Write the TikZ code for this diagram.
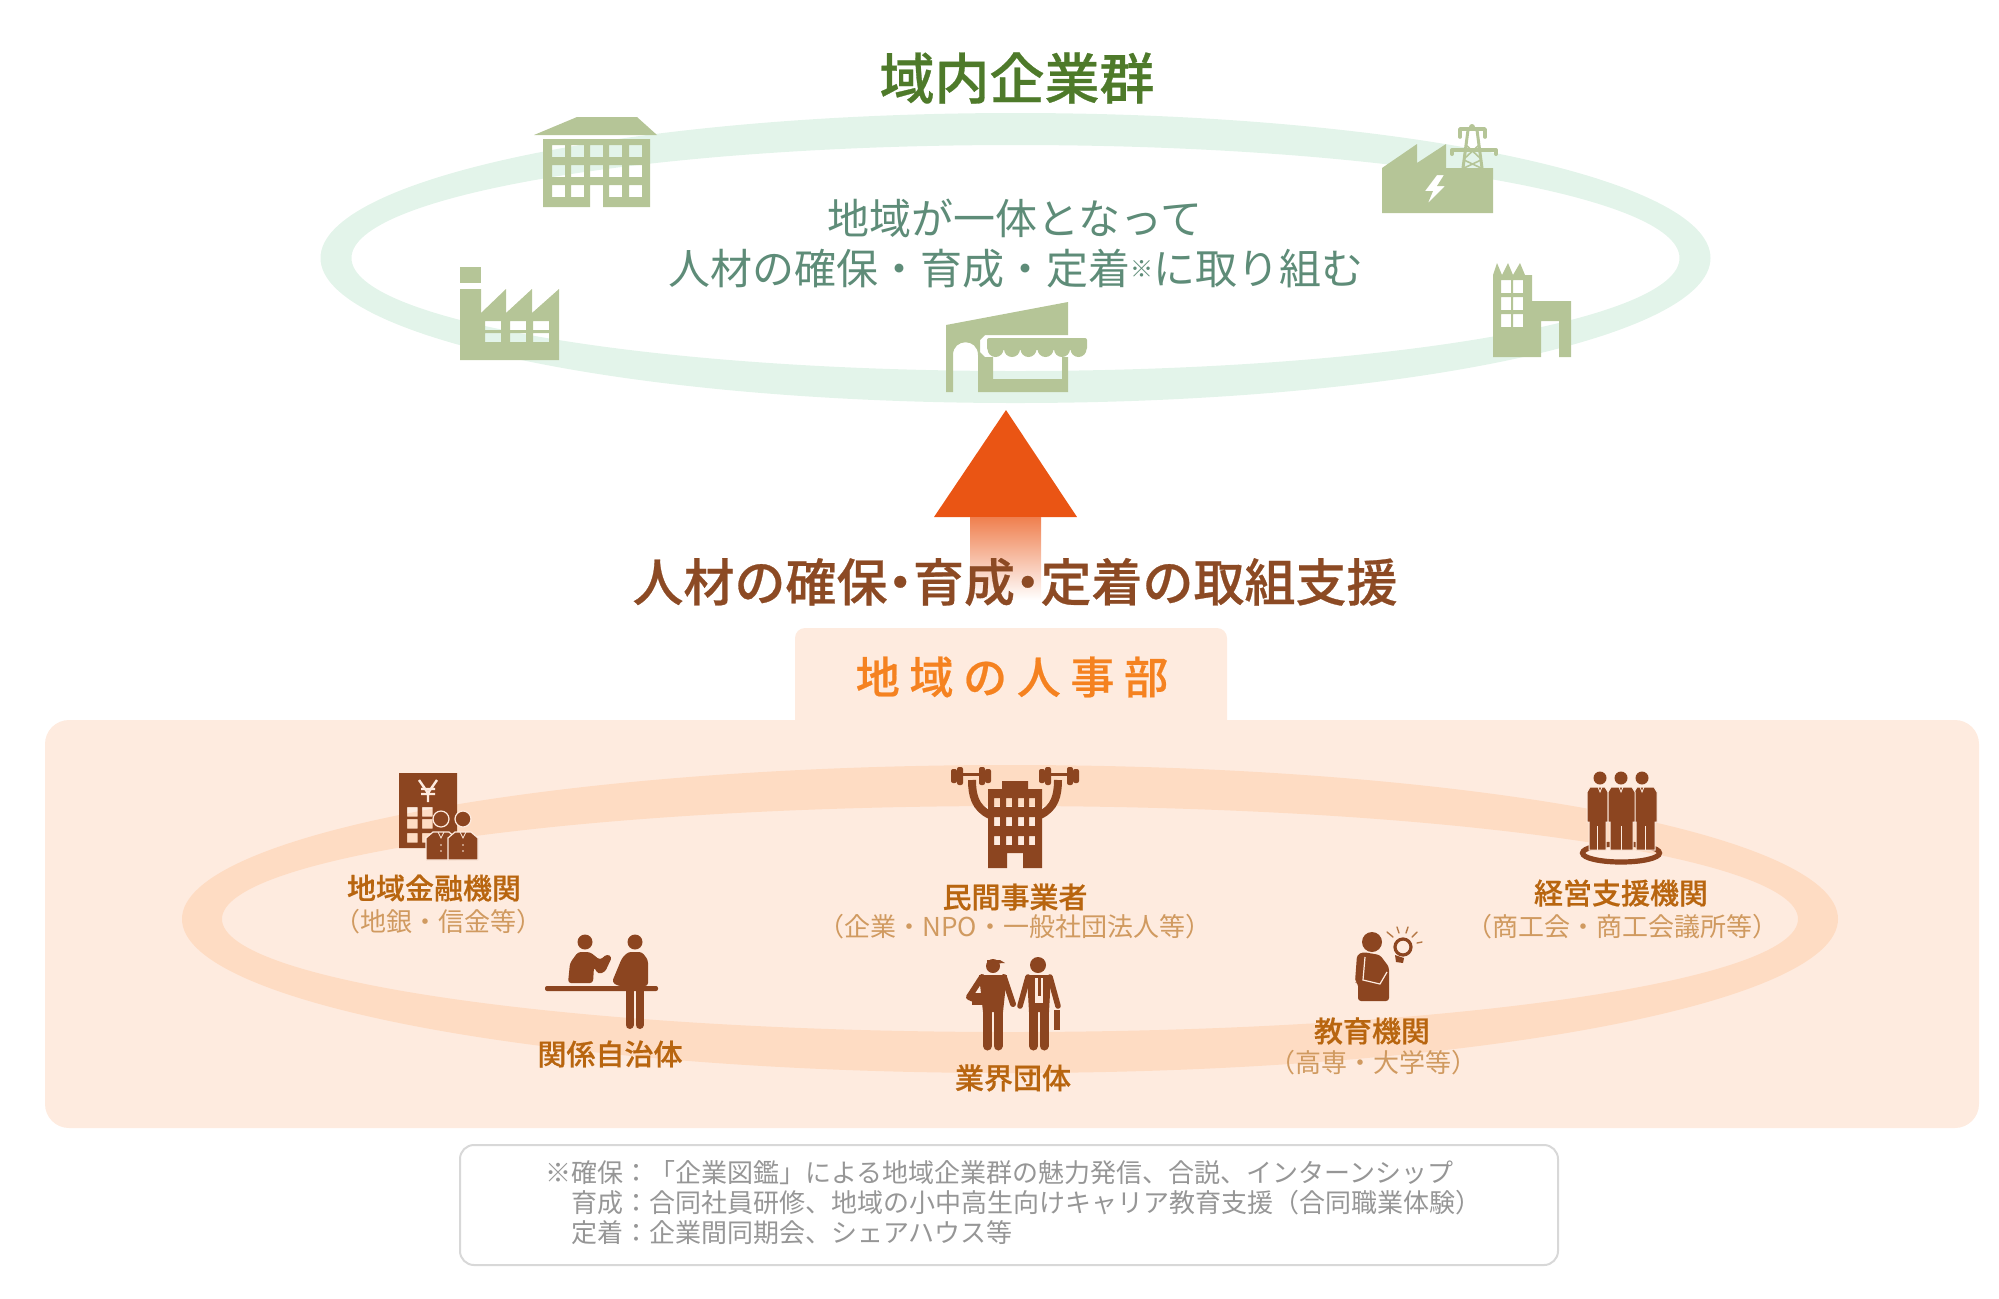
\documentclass[tikz,border=0pt]{standalone}
\usepackage{fontspec}
\newfontfamily\jp{Noto Sans CJK JP}
\newfontfamily\jpm[FakeBold=0.5]{Noto Sans CJK JP Medium}
\definecolor{ringgreen}{RGB}{227,244,234}
\definecolor{icongreen}{RGB}{181,197,151}
\definecolor{titlegreen}{RGB}{78,122,42}
\definecolor{textgreen}{RGB}{94,140,120}
\definecolor{panelfill}{RGB}{254,235,223}
\definecolor{ringorange}{RGB}{254,220,195}
\definecolor{iconbrown}{RGB}{140,69,32}
\definecolor{headbrown}{RGB}{140,74,36}
\definecolor{labelorange}{RGB}{184,101,15}
\definecolor{notelabel}{RGB}{208,154,96}
\definecolor{tabtext}{RGB}{245,130,32}
\definecolor{arrowred}{RGB}{234,85,20}
\definecolor{notegrey}{RGB}{150,150,150}
\definecolor{boxgrey}{RGB}{216,216,216}
\tikzset{
  greenicon/.style={fill=icongreen, even odd rule},
  brownicon/.style={fill=iconbrown, even odd rule},
  brownlimb/.style={draw=iconbrown, line cap=round, line join=round},
  bulbray/.style={draw=notelabel!60!iconbrown, line width=.7pt, line cap=round},
  cutline/.style={draw=panelfill, line width=.4pt},
  orglabel/.style={font=\jpm\fontsize{14.5}{17}\selectfont, text=labelorange, inner sep=0pt},
  orgnote/.style={font=\jp\fontsize{13}{15}\selectfont, text=notelabel, inner sep=0pt},
  midtext/.style={font=\jp\fontsize{21}{25}\selectfont, text=textgreen, inner sep=0pt},
}
\begin{document}
\begin{tikzpicture}[x=0.5pt, y=-0.5pt]
  \useasboundingbox (0,0) rectangle (1999,1298);
  % rings and panel
  \fill[ringgreen, even odd rule] (1015.5,258) ellipse [x radius=695, y radius=145]
                                  (1015.5,258) ellipse [x radius=664, y radius=113];
  \fill[panelfill, rounded corners=5pt] (795,628) rectangle (1227,745);
  \fill[panelfill, rounded corners=12pt] (45,720) rectangle (1979,1128);
  \fill[ringorange, even odd rule] (1010,919) ellipse [x radius=828, y radius=154]
                                   (1010,919) ellipse [x radius=788, y radius=113];
  % arrow
  \fill[arrowred] (1006,410) -- (1077,517) -- (934,517) -- cycle;
  \shade[top color=arrowred!75!white, bottom color=white] (970,517) rectangle (1041,600);
  % office
  \fill[greenicon] (577,117) -- (637,117) -- (657,135) -- (534,135) -- cycle;
  \fill[greenicon] (543,139) -- (650,139) -- (650,207) -- (603,207) -- (603,185) -- (590,185) -- (590,207) -- (543,207) -- cycle
    foreach \wx in {552,571,590,609,629} { foreach \wy in {145,165} { (\wx,\wy) rectangle ++(13,12) } }
    foreach \wx in {552,571,609,629} { (\wx,185) rectangle ++(13,12) };
  % factory
  \fill[greenicon] (460,267) rectangle (481,283);
  \fill[greenicon] (460,289) -- (481,289) -- (481,313) -- (506,289) -- (506,313) -- (532,289) -- (532,313) -- (559,289) -- (559,360) -- (460,360) -- cycle
    foreach \wx in {485,510,533} { foreach \wy in {321,333} { (\wx,\wy) rectangle ++(16,9) } };
  % shop
  \fill[greenicon] (946,392) -- (946,325) -- (1068,302) -- (1068,335) -- (985,335) -- (980,340) -- (980,352) -- (985,357) -- (993,357) -- (993,379)
    -- (1062,379) -- (1062,357) -- (1068,357) -- (1068,392) -- (978,392) -- (978,355) .. controls (978,338) and (953,338) .. (953,355) -- (953,392) -- cycle;
  \fill[greenicon, rounded corners=1pt] (987,338) rectangle (1087,350);
  \foreach \sx in {995.5,1012,1028.5,1045.5,1062,1078.5} { \fill[greenicon] (\sx,349) circle (8); }
  % power plant
  \fill[greenicon] (1382,168) -- (1417,144) -- (1417,163) -- (1446,144) -- (1446,168) -- (1493,168) -- (1493,213) -- (1382,213) -- cycle
    (1437,175) -- (1425,191) -- (1433,191) -- (1428,203) -- (1445,186) -- (1437,186) -- (1444,175) -- cycle;
  \draw[icongreen, line width=1.5pt] (1468,130) -- (1463,168) (1477,130) -- (1482,168);
  \draw[icongreen, line width=.8pt] (1466,145) -- (1480,158) (1479,145) -- (1465,158) (1464,160) -- (1481,168) (1481,160) -- (1464,168);
  \draw[icongreen, line width=1.8pt, line cap=round, line join=round] (1460,137) -- (1460,129) -- (1485,129) -- (1485,137);
  \draw[icongreen, line width=2pt, line cap=round, line join=round] (1452,154) -- (1452,150) -- (1496,150) -- (1496,154);
  \fill[icongreen] (1472,127) circle (3);
  % city building
  \fill[greenicon] (1493,357) -- (1493,275) -- (1497,263) -- (1502,275) -- (1508,263) -- (1513,275) -- (1520,263) -- (1525,275) -- (1532,275) -- (1532,301)
    -- (1571,301) -- (1571,357) -- (1559,357) -- (1559,321) -- (1541,321) -- (1541,357) -- cycle
    foreach \wx in {1501,1513} { foreach \wy in {280,297,314} { (\wx,\wy) rectangle ++(10,13) } };
  % bank
  \fill[brownicon] (399,773) rectangle (457,848)
    foreach \wx in {407,422} { foreach \wy in {807,819,833} { (\wx,\wy) rectangle ++(10.5,9.5) } };
  \draw[panelfill, line width=1.2pt] (419,780) -- (428,793) -- (437,780) (428,793) -- (428,802) (421,789) -- (435,789) (421,794) -- (435,794);
  \foreach \hx in {441,463} {
    \fill[iconbrown, draw=panelfill, line width=.6pt] (\hx,819) circle (8);
    \fill[iconbrown, draw=panelfill, line width=.6pt] (\hx-15,860) -- (\hx-15,838) -- (\hx-8,832) -- (\hx+8,832) -- (\hx+15,838) -- (\hx+15,860) -- cycle;
    \draw[cutline] (\hx-3,832) -- (\hx,838) -- (\hx+3,832);
    \fill[panelfill] (\hx,845) circle (.8) (\hx,851) circle (.8);
  }
  % town hall
  \fill[iconbrown, rounded corners=1pt] (545,986) rectangle (658,991);
  \fill[iconbrown] (585,942) circle (7.5) (635,942) circle (7.5);
  \fill[iconbrown, rounded corners=1.5pt] (568,983) -- (570,963) -- (578,952) -- (590,952) -- (600,960) -- (607,954) -- (612,957) -- (605,972) -- (598,974) -- (594,967) -- (593,983) -- cycle;
  \fill[iconbrown, rounded corners=1.5pt] (612,982) -- (622,958) -- (628,952) -- (642,952) -- (648,960) -- (648,986) -- (618,986) -- cycle;
  \draw[brownlimb, line width=4pt] (629.5,990) -- (629.5,1025) (639.5,990) -- (639.5,1025);
  % strong company
  \fill[brownicon] (1002,781) -- (1028,781) -- (1028,789) -- (1042,789) -- (1042,868) -- (1023,868) -- (1023,853) -- (1007,853) -- (1007,868) -- (988,868) -- (988,789) -- (1002,789) -- cycle
    foreach \wx in {994,1006,1018,1029} { foreach \wy in {798,817,836} { (\wx,\wy) rectangle ++(6,9) } };
  \draw[brownlimb, line width=4pt, line cap=butt] (990,815) .. controls (975,808) and (972,795) .. (972,780);
  \draw[brownlimb, line width=4pt, line cap=butt] (1040,815) .. controls (1055,808) and (1058,795) .. (1058,780);
  \foreach \dx in {971,1059} {
    \fill[iconbrown] (\dx-8,773) rectangle (\dx+8,776);
    \fill[iconbrown, rounded corners=1pt] (\dx-14,767) rectangle (\dx-8,785) (\dx+8,767) rectangle (\dx+14,785);
    \fill[iconbrown, rounded corners=1pt] (\dx-20,769) rectangle (\dx-14,783) (\dx+14,769) rectangle (\dx+20,783);
  }
  % support team
  \draw[iconbrown, line width=2.6pt] (1621,853) ellipse [x radius=38.5, y radius=9];
  \foreach \hx/\bx/\hw in {1600/1597.5/10.5,1642/1645.5/11.5,1621/1621.5/13.5} {
    \fill[iconbrown] (\hx,778) circle (6.5);
    \fill[iconbrown, draw=panelfill, line width=.5pt] (\bx-\hw+3,787) -- (\bx+\hw-3,787) -- (\bx+\hw,792) -- (\bx+\hw,822) -- (\bx+\hw-2,822) -- (\bx+\hw-2,850) -- (\bx-\hw+2,850) -- (\bx-\hw+2,822) -- (\bx-\hw,822) -- (\bx-\hw,792) -- cycle;
    \draw[cutline] (\bx,826) -- (\bx,850) (\hx-2,787) -- (\hx,792) -- (\hx+2,787);
  }
  % teacher
  \fill[iconbrown] (1372,942) circle (10);
  \fill[iconbrown, rounded corners=1.5pt] (1358,1001) -- (1358,983) -- (1355,982) -- (1357,955) -- (1363,952) -- (1380,955) -- (1389,967) -- (1389,1001) -- cycle;
  \draw[cutline, line width=.6pt] (1365,957) -- (1363,980) -- (1380,984) -- (1387,972);
  \draw[iconbrown, line width=1.6pt] (1403,947) circle (8);
  \fill[iconbrown] (1395,955) -- (1404,958) -- (1403,963) -- (1396,962) -- cycle;
  \draw[bulbray] (1387,932) -- (1393,937) (1397,927) -- (1399,933) (1408,927) -- (1406,933) (1417,932) -- (1412,937) (1422,942) -- (1417,943);
  % two men
  \fill[iconbrown] (993,966) circle (7);
  \fill[iconbrown] (987,960) -- (1000,960) -- (1005,963) -- (987,964) -- cycle;
  \fill[iconbrown] (979,975) -- (1007,975) -- (1003,1012) -- (983,1012) -- cycle;
  \fill[iconbrown] (972,993) rectangle (985,1005);
  \draw[brownlimb, line width=3pt] (982,977) -- (969,997) -- (976,1000);
  \draw[brownlimb, line width=3pt] (1004,977) -- (1013,1004);
  \draw[brownlimb, line width=4.5pt] (987.5,1010) -- (987.5,1046) (998,1010) -- (998,1046);
  \fill[iconbrown] (1038,965) circle (8);
  \fill[iconbrown] (1027,975) -- (1051,975) -- (1049,1012) -- (1029,1012) -- cycle;
  \draw[brownlimb, line width=2.8pt] (1028,977) -- (1020,1006);
  \draw[brownlimb, line width=2.8pt] (1050,977) -- (1058,1006);
  \fill[panelfill] (1035,978) rectangle (1043,1003);
  \fill[iconbrown] (1037.5,978) rectangle (1040.5,996);
  \draw[brownlimb, line width=4.5pt] (1033.5,1010) -- (1033.5,1046) (1044,1010) -- (1044,1046);
  \fill[iconbrown] (1054,1010) rectangle (1060,1030);
  % texts
  \node[font=\jpm\fontsize{27.5}{33}\selectfont, text=titlegreen, inner sep=0pt] (title) at (1017,78) {域内企業群};
  \node[midtext] (unite) at (1015,218) {地域が一体となって};
  \node[midtext] (secure) at (1016,269) {人材の確保・育成・定着{\fontsize{11.5}{12}\selectfont\raisebox{.6ex}{※}}に取り組む};
  \node[font=\jpm\fontsize{25.5}{30}\selectfont, text=headbrown, inner sep=0pt] (support) at (1015,582)
    {人材の確保\hspace{-.25em}・\hspace{-.25em}育成\hspace{-.25em}・\hspace{-.25em}定着の取組支援};
  \node[font=\jpm\fontsize{22}{26}\selectfont\addfontfeature{LetterSpace=22}, text=tabtext, inner sep=0pt] (tab) at (1012,677) {地域の人事部};
  \node[orglabel] (bank) at (434,888) {地域金融機関};
  \node[orgnote] (banknote) at (438,922) {（地銀・信金等）};
  \node[orglabel] (town) at (610,1054) {関係自治体};
  \node[orglabel] (firm) at (1015,897) {民間事業者};
  \node[orgnote] (firmnote) at (1015,927) {（企業・NPO・一般社団法人等）};
  \node[orglabel] (trade) at (1013,1078) {業界団体};
  \node[orglabel] (school) at (1372,1031) {教育機関};
  \node[orgnote] (schoolnote) at (1373,1063) {（高専・大学等）};
  \node[orglabel] (chamber) at (1621,893) {経営支援機関};
  \node[orgnote] (chambernote) at (1622,927) {（商工会・商工会議所等）};
  % footnote
  \draw[boxgrey, line width=1pt, rounded corners=7pt] (460,1145) rectangle (1558,1265);
  \node[anchor=north west, align=left, inner sep=0pt, font=\jp\fontsize{13}{15}\selectfont, text=notegrey] (note) at (545,1160)
    {※確保：「企業図鑑」による地域企業群の魅力発信、合説、インターンシップ\\
     \hspace*{1em}育成：合同社員研修、地域の小中高生向けキャリア教育支援（合同職業体験）\\
     \hspace*{1em}定着：企業間同期会、シェアハウス等};
\end{tikzpicture}
\end{document}
